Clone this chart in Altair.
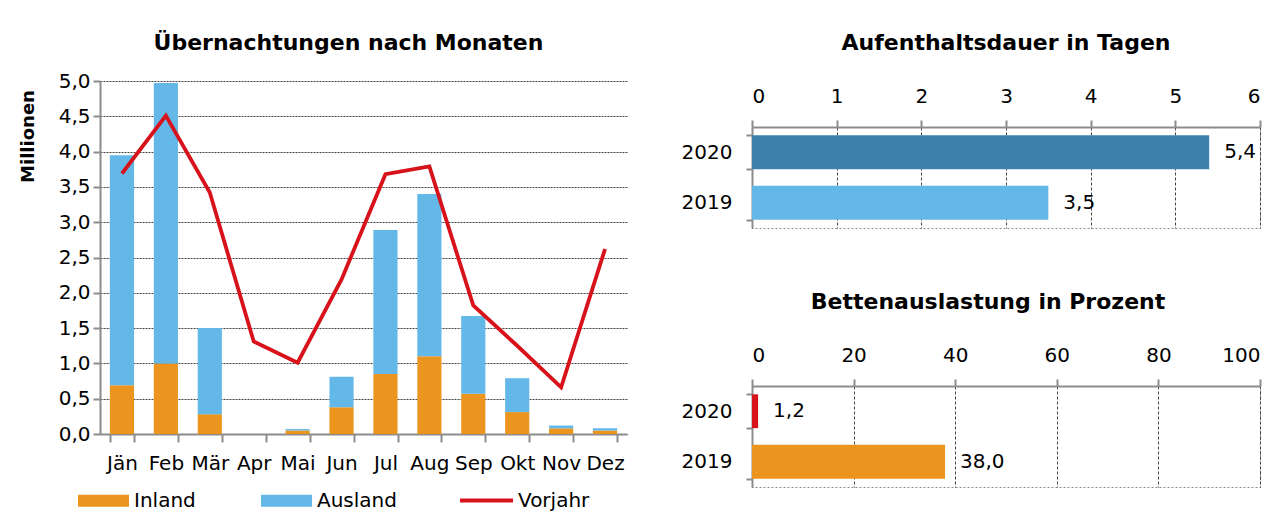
import altair as alt
import pandas as pd

# ---------------- data ----------------
months = ["Jän", "Feb", "Mär", "Apr", "Mai", "Jun", "Jul", "Aug", "Sep", "Okt", "Nov", "Dez"]
inland = [0.69, 1.00, 0.28, 0.00, 0.05, 0.38, 0.85, 1.10, 0.57, 0.31, 0.08, 0.05]
ausland = [3.26, 3.97, 1.22, 0.00, 0.02, 0.43, 2.04, 2.30, 1.10, 0.48, 0.04, 0.03]
vorjahr = [3.69, 4.51, 3.42, 1.31, 1.01, 2.19, 3.68, 3.79, 1.82, 1.25, 0.66, 2.62]

years = ["2020", "2019"]
dauer = [5.4, 3.5]
auslastung = [1.2, 38.0]

FONT = "DejaVu Sans"
ORANGE = "#ec951e"
LIGHTBLUE = "#63b8e8"
DARKBLUE = "#3e81ad"
RED = "#d7121a"
AXGREY = "#8c8c8c"
FS = 20
NOSTROKE = alt.ViewBackground(stroke="transparent")

def de(v):
    return f"{v:.1f}".replace(".", ",")

# ---------------- left chart ----------------
rows = []
for m, a, b in zip(months, inland, ausland):
    rows.append({"Monat": m, "Typ": "Inland", "Wert": a, "ord": 0})
    rows.append({"Monat": m, "Typ": "Ausland", "Wert": b, "ord": 1})
bars_df = pd.DataFrame(rows)
line_df = pd.DataFrame({"Monat": months, "Wert": vorjahr, "Typ": ["Vorjahr"] * 12})

xscale = alt.Scale(paddingInner=0.45, paddingOuter=0.225)
xaxis = alt.Axis(title=None, labelAngle=0, labelFontSize=FS, labelColor="black",
                 labelFont=FONT, labelPadding=11, tickBand="extent",
                 tickColor=AXGREY, tickWidth=2, tickSize=8,
                 domainColor=AXGREY, domainWidth=2, grid=False)
yscale = alt.Scale(domain=[0, 5], nice=False)
yaxis = alt.Axis(title="Millionen", titleFontSize=18, titleFontWeight="bold", titleFont=FONT,
                 titleColor="black", titlePadding=21, titleY=55, titleAlign="center",
                 values=[0, 0.5, 1, 1.5, 2, 2.5, 3, 3.5, 4, 4.5, 5],
                 labelExpr="replace(format(datum.value, '.1f'), '.', ',')",
                 labelFontSize=FS, labelColor="black", labelFont=FONT, labelPadding=3,
                 labelOverlap=False,
                 tickColor=AXGREY, tickWidth=2, tickSize=7,
                 domainColor=AXGREY, domainWidth=2,
                 grid=True, gridColor="#444", gridDash=[2, 1], gridWidth=1)

bars = alt.Chart(bars_df).mark_bar().encode(
    x=alt.X("Monat:N", sort=months, scale=xscale, axis=xaxis),
    y=alt.Y("Wert:Q", stack="zero", scale=yscale, axis=yaxis),
    fill=alt.Fill("Typ:N",
                  scale=alt.Scale(domain=["Inland", "Ausland"], range=[ORANGE, LIGHTBLUE]),
                  legend=alt.Legend(title=None, orient="none", legendX=-22, legendY=394,
                                    direction="horizontal", columns=2,
                                    symbolType="M-1,-0.235H1V0.235H-1Z", symbolSize=2601,
                                    symbolStrokeWidth=0, symbolOpacity=1,
                                    labelFontSize=FS, labelFont=FONT, labelColor="black",
                                    labelOffset=5, columnPadding=65)),
    order=alt.Order("ord:Q"),
)

line = alt.Chart(line_df).mark_line(strokeWidth=3.8).encode(
    x=alt.X("Monat:N", sort=months, scale=xscale, axis=xaxis),
    y=alt.Y("Wert:Q", scale=yscale, axis=yaxis),
    stroke=alt.Stroke("Typ:N", scale=alt.Scale(domain=["Vorjahr"], range=[RED]),
                      legend=alt.Legend(title=None, orient="none", legendX=358, legendY=391,
                                        symbolType="stroke", symbolSize=2809,
                                        symbolStrokeWidth=4,
                                        labelFontSize=FS, labelFont=FONT, labelColor="black",
                                        labelOffset=3)),
)

left = alt.layer(bars, line).properties(
    width=527, height=353, view=NOSTROKE,
    title=alt.TitleParams("Übernachtungen nach Monaten", fontSize=22, fontWeight="bold",
                          font=FONT, color="black", anchor="middle", dx=-15, offset=16),
).resolve_scale(fill="independent", stroke="independent")

# ---------------- right charts ----------------
def hbar(values, colors, domain_max, ticks, title=None, dx_title=0, title_offset=0):
    df = pd.DataFrame({"Jahr": years, "Wert": values, "Farbe": colors,
                       "Label": [de(v) for v in values]})
    base = alt.Chart(df)
    y = alt.Y("Jahr:N", sort=years,
              scale=alt.Scale(paddingInner=0.33, paddingOuter=0.165),
              axis=alt.Axis(title=None, labelFontSize=FS, labelFont=FONT, labelColor="black",
                            labelPadding=14, tickBand="extent", tickColor=AXGREY, tickWidth=2,
                            tickSize=6, domainColor=AXGREY, domainWidth=2))
    x = alt.X("Wert:Q", scale=alt.Scale(domain=[0, domain_max], nice=False),
              axis=alt.Axis(title=None, orient="top", values=ticks, format="d",
                            labelFontSize=FS, labelFont=FONT, labelColor="black",
                            labelPadding=14, tickColor=AXGREY, tickWidth=2, tickSize=7,
                            domainColor=AXGREY, domainWidth=2,
                            grid=True, gridColor="#444", gridDash=[3, 2], gridWidth=1))
    b = base.mark_bar().encode(x=x, y=y, fill=alt.Fill("Farbe:N", scale=None))
    t = base.mark_text(align="left", baseline="middle", dx=15, fontSize=FS, font=FONT,
                       color="black").encode(
        x=alt.X("Wert:Q"), y=alt.Y("Jahr:N", sort=years), text="Label:N")
    props = dict(width=508, height=101,
                 view=alt.ViewBackground(stroke="#888", strokeDash=[2, 2], strokeWidth=1))
    if title:
        props["title"] = alt.TitleParams(title, fontSize=22, fontWeight="bold", font=FONT,
                                         color="black", anchor="middle", dx=dx_title,
                                         offset=title_offset)
    return alt.layer(b, t).properties(**props)

# title holder for the upper right panel (keeps its title level with the left title)
title_holder = alt.Chart(pd.DataFrame({"v": [0]})).mark_point(opacity=0, size=0).encode(
    x=alt.X("v:Q", axis=None), y=alt.Y("v:Q", axis=None)
).properties(
    width=508, height=1, view=NOSTROKE,
    title=alt.TitleParams("Aufenthaltsdauer in Tagen", fontSize=22, fontWeight="bold",
                          font=FONT, color="black", anchor="middle", offset=26),
)

top_right = hbar(dauer, [DARKBLUE, LIGHTBLUE], 6, [0, 1, 2, 3, 4, 5, 6])
bottom_right = hbar(auslastung, [RED, ORANGE], 100, [0, 20, 40, 60, 80, 100],
                    "Bettenauslastung in Prozent", -18, 31)

right = alt.vconcat(title_holder, top_right, spacing=2)
right = alt.vconcat(right, bottom_right, spacing=61)

chart = alt.hconcat(left, right, spacing=52).properties(
    padding={"left": 10, "top": 23, "right": 5, "bottom": 5}
).configure_view(stroke="transparent").configure(font=FONT)

chart.save("out.html", embed_options={"renderer": "svg", "actions": False})
